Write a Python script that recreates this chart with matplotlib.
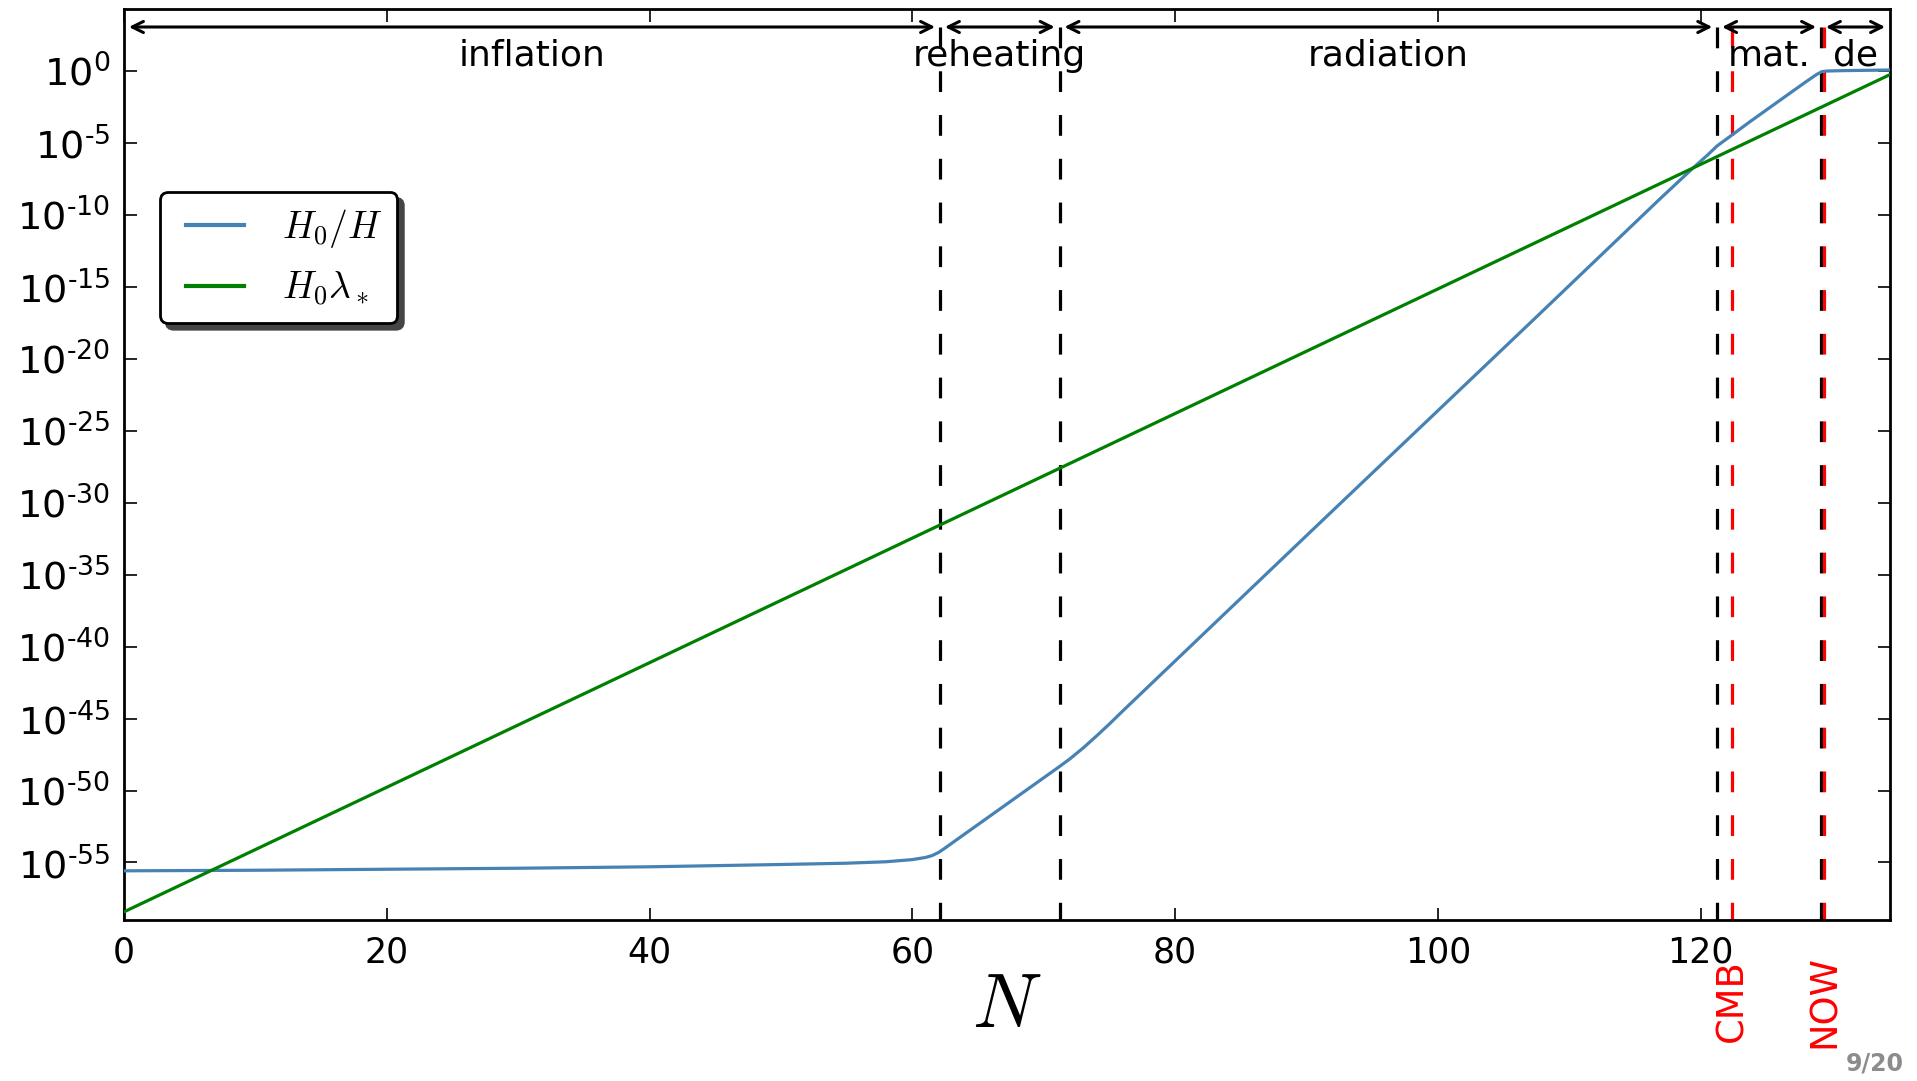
import numpy as np
import matplotlib
matplotlib.use("Agg")
import matplotlib.pyplot as plt
from matplotlib.ticker import FixedLocator, FixedFormatter, NullLocator
from matplotlib.legend_handler import HandlerLine2D
from matplotlib.lines import Line2D

plt.rcParams['mathtext.fontset'] = 'cm'
plt.rcParams['font.family'] = ['DejaVu Sans']

# ---- data (y values are log10) ----
N_blue = [0, 10, 20, 30, 40, 50, 55, 58, 60, 61, 61.5, 62, 62.5, 63, 64, 66,
          68, 70, 71.2, 72, 73, 74, 75, 76, 78.5, 90, 107.25, 116.9, 119.4,
          120.5, 121.25, 122, 123.7, 126, 128, 128.8, 129.2, 129.6, 131, 134.4]
logH0_over_H = [-55.58, -55.54, -55.47, -55.40, -55.30, -55.14, -55.05, -54.95,
                -54.80, -54.65, -54.52, -54.30, -53.99, -53.66, -53.01, -51.71,
                -50.41, -49.11, -48.33, -47.79, -47.04, -46.22, -45.37, -44.48,
                -42.30, -32.28, -17.30, -8.88, -6.75, -5.85, -5.2, -4.7, -3.55,
                -2.05, -0.75, -0.25, -0.05, 0.0, 0.03, 0.07]
N_green = [0, 134.4]
logH0_lambda = [-58.43, -0.25]

legend_labels = [r'$H_0/H$', r'$H_0\lambda_*$']

era_bounds = [0, 62.1, 71.2, 121.25, 129.15, 134.4]
era_names = ['inflation', 'reheating', 'radiation', 'mat.', 'de']
event_N = [122.4, 129.4]
event_names = ['CMB', 'NOW']

xticks = [0, 20, 40, 60, 80, 100, 120]
ytick_exps = [0, -5, -10, -15, -20, -25, -30, -35, -40, -45, -50, -55]
ytick_labels = [r'$\mathdefault{10^{%s}}$' % (('\u2010%d' % -e) if e < 0 else '0')
                for e in ytick_exps]

xlim = (0, 134.4)
ylim = (10 ** -59.0, 10 ** 4.31)
y_arrow = 10 ** 3.06
y_text = 10 ** 0.35


class InsetLineHandler(HandlerLine2D):
    """Line handle that starts a little to the right of the handle box."""
    def __init__(self, inset=8.0, **kw):
        super().__init__(**kw)
        self.inset = inset

    def create_artists(self, legend, orig_handle, xdescent, ydescent, width,
                       height, fontsize, trans):
        arts = super().create_artists(legend, orig_handle, xdescent, ydescent,
                                      width, height, fontsize, trans)
        for a in arts:
            if isinstance(a, Line2D):
                xd = np.asarray(a.get_xdata(), dtype=float)
                if len(xd) >= 2:
                    a.set_xdata(np.linspace(xd[0] + self.inset, xd[-1],
                                            len(xd)))
        return arts


# ---- figure ----
fig = plt.figure(figsize=(19.17, 10.81), dpi=100)
ax = fig.add_axes([0.0647, 0.1489, 0.9859 - 0.0647, 0.99167 - 0.1489])
ax.set_yscale('log')

l1, = ax.plot(N_blue, 10 ** np.array(logH0_over_H), color='#4682b4', lw=2.3,
              label=legend_labels[0], zorder=3)
l2, = ax.plot(N_green, 10 ** np.array(logH0_lambda), color='#008000', lw=2.3,
              label=legend_labels[1], zorder=3)

# vertical era boundaries (black dashed) from top (arrow) to bottom
for b in era_bounds[1:-1]:
    ax.plot([b, b], [y_arrow, ylim[0]], color='k', lw=2.3,
            dashes=(6.5, 7.2), zorder=2)
for x in event_N:
    ax.plot([x, x], [y_arrow, ylim[0]], color='red', lw=2.3,
            dashes=(6.5, 7.2), zorder=2)

# era arrows and names
for x0, x1, name in zip(era_bounds[:-1], era_bounds[1:], era_names):
    ax.annotate('', xy=(x1, y_arrow), xytext=(x0, y_arrow),
                arrowprops=dict(arrowstyle='<->', lw=2.2, color='k',
                                shrinkA=3.5, shrinkB=3.5, mutation_scale=20))
    ax.text((x0 + x1) / 2, y_text, name, ha='center', va='baseline',
            fontsize=26, zorder=4)

# event labels below axis
for x, name in zip(event_N, event_names):
    ax.text(x, -0.089, name, transform=ax.get_xaxis_transform(), rotation=90,
            ha='center', va='center', color='red', fontsize=26.5, clip_on=False)

ax.set_xlim(*xlim)
ax.set_ylim(*ylim)
ax.xaxis.set_major_locator(FixedLocator(xticks))
ax.yaxis.set_major_locator(FixedLocator([10.0 ** e for e in ytick_exps]))
ax.yaxis.set_major_formatter(FixedFormatter(ytick_labels))
ax.yaxis.set_minor_locator(NullLocator())
ax.xaxis.set_minor_locator(NullLocator())
ax.tick_params(which='major', direction='in', length=9, width=1.2,
               top=True, right=True, labelsize=25, pad=11)
ax.tick_params(axis='y', labelsize=27.5, pad=10)
for s in ax.spines.values():
    s.set_linewidth(2.0)

ax.set_xlabel(r'$N$', fontsize=55, labelpad=0)

handler = InsetLineHandler(inset=8.0)
leg = ax.legend(handles=[l1, l2], loc='upper left',
                bbox_to_anchor=(0.0204, 0.799),
                borderaxespad=0, fontsize=27, handlelength=1.84,
                handletextpad=1.0, labelspacing=0.52, borderpad=0.4,
                fancybox=True,
                shadow={'ox': 4.5, 'oy': -4.5, 'color': '#454545', 'alpha': 1},
                framealpha=1, handler_map={Line2D: handler})
leg.get_frame().set_linewidth(2.0)
leg.get_frame().set_edgecolor('k')
for line in leg.get_lines():
    line.set_linewidth(3)

fig.text(0.993, 0.005, '9/20', ha='right', va='bottom', fontsize=17,
         fontweight='bold', color='0.55')

fig.savefig('out.png', dpi=100)
